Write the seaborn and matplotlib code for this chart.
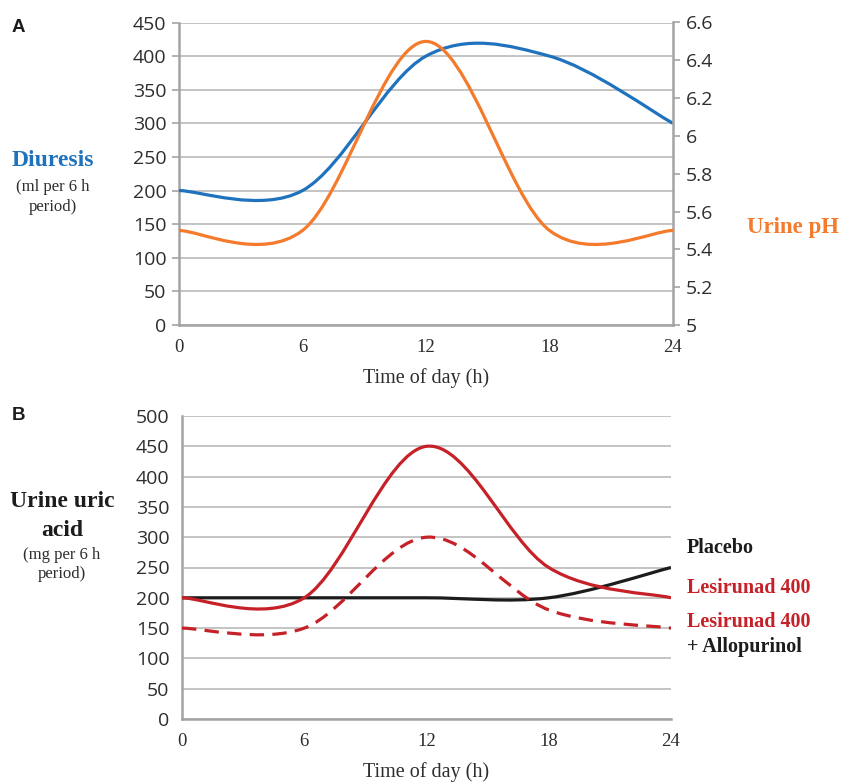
import numpy as np
import matplotlib
matplotlib.use("Agg")
import matplotlib.pyplot as plt
from matplotlib.path import Path
from matplotlib.patches import PathPatch
import seaborn as sns

# ---- data ----
hours = [0, 6, 12, 18, 24]
diuresis = [200, 200, 400, 400, 300]          # ml per 6 h period
urine_ph = [5.5, 5.5, 6.5, 5.5, 5.5]
placebo = [200, 200, 200, 200, 250]           # mg per 6 h period
lesinurad = [200, 200, 450, 250, 200]
lesinurad_allo = [150, 150, 300, 180, 150]

BLUE = "#1f72bd"
ORANGE = "#f47a2c"
RED = "#c62128"
BLACK = "#1c1c1c"
GRID = "#b4b4b4"
SPINE = "#a4a4a4"
TICK_TXT = "#2e2e2e"
SERIF = "Liberation Serif"
SANS = "Open Sans"


def smooth_path(x, y):
    """Excel-style smoothed line: cubic Bezier segments (Catmull-Rom control points)."""
    pts = np.column_stack([x, y]).astype(float)
    ext = np.vstack([pts[:1], pts, pts[-1:]])
    verts = [tuple(pts[0])]
    codes = [Path.MOVETO]
    for i in range(1, len(ext) - 2):
        p0, p1, p2, p3 = ext[i - 1], ext[i], ext[i + 1], ext[i + 2]
        c1 = p1 + (p2 - p0) / 6.0
        c2 = p2 - (p3 - p1) / 6.0
        verts += [tuple(c1), tuple(c2), tuple(p2)]
        codes += [Path.CURVE4] * 3
    return Path(verts, codes)


def draw_curve(ax, x, y, color, ls="-"):
    patch = PathPatch(smooth_path(x, y), facecolor="none", edgecolor=color,
                      lw=2.3, linestyle=ls, capstyle="butt", zorder=3)
    ax.add_patch(patch)


def style_axis(ax, ylim, yticks):
    ax.set_xlim(0, 24)
    ax.set_ylim(*ylim)
    ax.set_yticks(yticks)
    ax.set_xticks(hours)
    ax.grid(axis="y", color=GRID, lw=1.1)
    ax.grid(axis="x", visible=False)
    ax.set_axisbelow(True)
    for s in ["top", "right"]:
        ax.spines[s].set_visible(False)
    for s in ["left", "bottom"]:
        ax.spines[s].set_color(SPINE)
        ax.spines[s].set_linewidth(1.8)
    ax.tick_params(axis="y", length=5, width=1.2, color=SPINE, pad=4,
                   labelsize=14, labelcolor=TICK_TXT)
    ax.tick_params(axis="x", length=5, width=1.2, color=SPINE, pad=5,
                   labelsize=13.5, labelcolor=TICK_TXT)
    for lab in ax.get_yticklabels():
        lab.set_family(SANS)
    for lab in ax.get_xticklabels():
        lab.set_family(SERIF)
    ax.set_xlabel("Time of day (h)", family=SERIF, fontsize=14.5, color=TICK_TXT, labelpad=9)


sns.set_theme(style="white")
fig = plt.figure(figsize=(8.43, 7.84), dpi=100)

# ---- Panel A ----
axA = fig.add_axes([179 / 843, 1 - 325 / 784, 494 / 843, 302.5 / 784])
style_axis(axA, (0, 450), range(0, 451, 50))
draw_curve(axA, hours, diuresis, BLUE)

axA2 = axA.twinx()
axA2.set_ylim(5, 6.6)
axA2.set_yticks(np.round(np.arange(5, 6.61, 0.2), 1))
axA2.set_yticklabels(["5", "5.2", "5.4", "5.6", "5.8", "6", "6.2", "6.4", "6.6"])
axA2.grid(False)
for s in ["top", "left", "bottom"]:
    axA2.spines[s].set_visible(False)
axA2.spines["right"].set_color(SPINE)
axA2.spines["right"].set_linewidth(1.8)
axA2.tick_params(axis="y", length=5, width=1.2, color=SPINE, pad=4,
                 labelsize=14, labelcolor=TICK_TXT)
for lab in axA2.get_yticklabels():
    lab.set_family(SANS)
draw_curve(axA2, hours, urine_ph, ORANGE)

# ---- Panel B ----
axB = fig.add_axes([182 / 843, 1 - 719 / 784, 489 / 843, 303 / 784])
style_axis(axB, (0, 500), range(0, 501, 50))
draw_curve(axB, hours, placebo, BLACK)
draw_curve(axB, hours, lesinurad, RED)
draw_curve(axB, hours, lesinurad_allo, RED, ls=(0, (4.5, 2.6)))


def ftext(x, y, s, **kw):
    fig.text(x / 843, 1 - y / 784, s, **kw)


# panel letters
ftext(12, 28, "A", family="Liberation Sans", fontsize=13.5, weight="bold", color=BLACK, va="center")
ftext(12, 416, "B", family="Liberation Sans", fontsize=13.5, weight="bold", color=BLACK, va="center")

# panel A axis titles
ftext(53, 161, "Diuresis", family=SERIF, fontsize=17, weight="bold", color=BLUE, ha="center", va="center")
ftext(53, 187, "(ml per 6 h", family=SERIF, fontsize=12, color=TICK_TXT, ha="center", va="center")
ftext(53, 207, "period)", family=SERIF, fontsize=12, color=TICK_TXT, ha="center", va="center")
ftext(793, 227, "Urine pH", family=SERIF, fontsize=16.5, weight="bold", color=ORANGE, ha="center", va="center")

# panel B axis title
ftext(62, 502, "Urine uric", family=SERIF, fontsize=17, weight="bold", color=BLACK, ha="center", va="center")
ftext(62, 530, "acid", family=SERIF, fontsize=17, weight="bold", color=BLACK, ha="center", va="center")
ftext(62, 555, "(mg per 6 h", family=SERIF, fontsize=12, color=TICK_TXT, ha="center", va="center")
ftext(62, 574, "period)", family=SERIF, fontsize=12, color=TICK_TXT, ha="center", va="center")

# series labels
ftext(687, 548, "Placebo", family=SERIF, fontsize=14.5, weight="bold", color=BLACK, va="center")
ftext(687, 588, "Lesirunad 400", family=SERIF, fontsize=14.5, weight="bold", color=RED, va="center")
ftext(687, 622, "Lesirunad 400", family=SERIF, fontsize=14.5, weight="bold", color=RED, va="center")
ftext(687, 647, "+ Allopurinol", family=SERIF, fontsize=14.5, weight="bold", color=BLACK, va="center")

fig.savefig("out.png", dpi=100)
